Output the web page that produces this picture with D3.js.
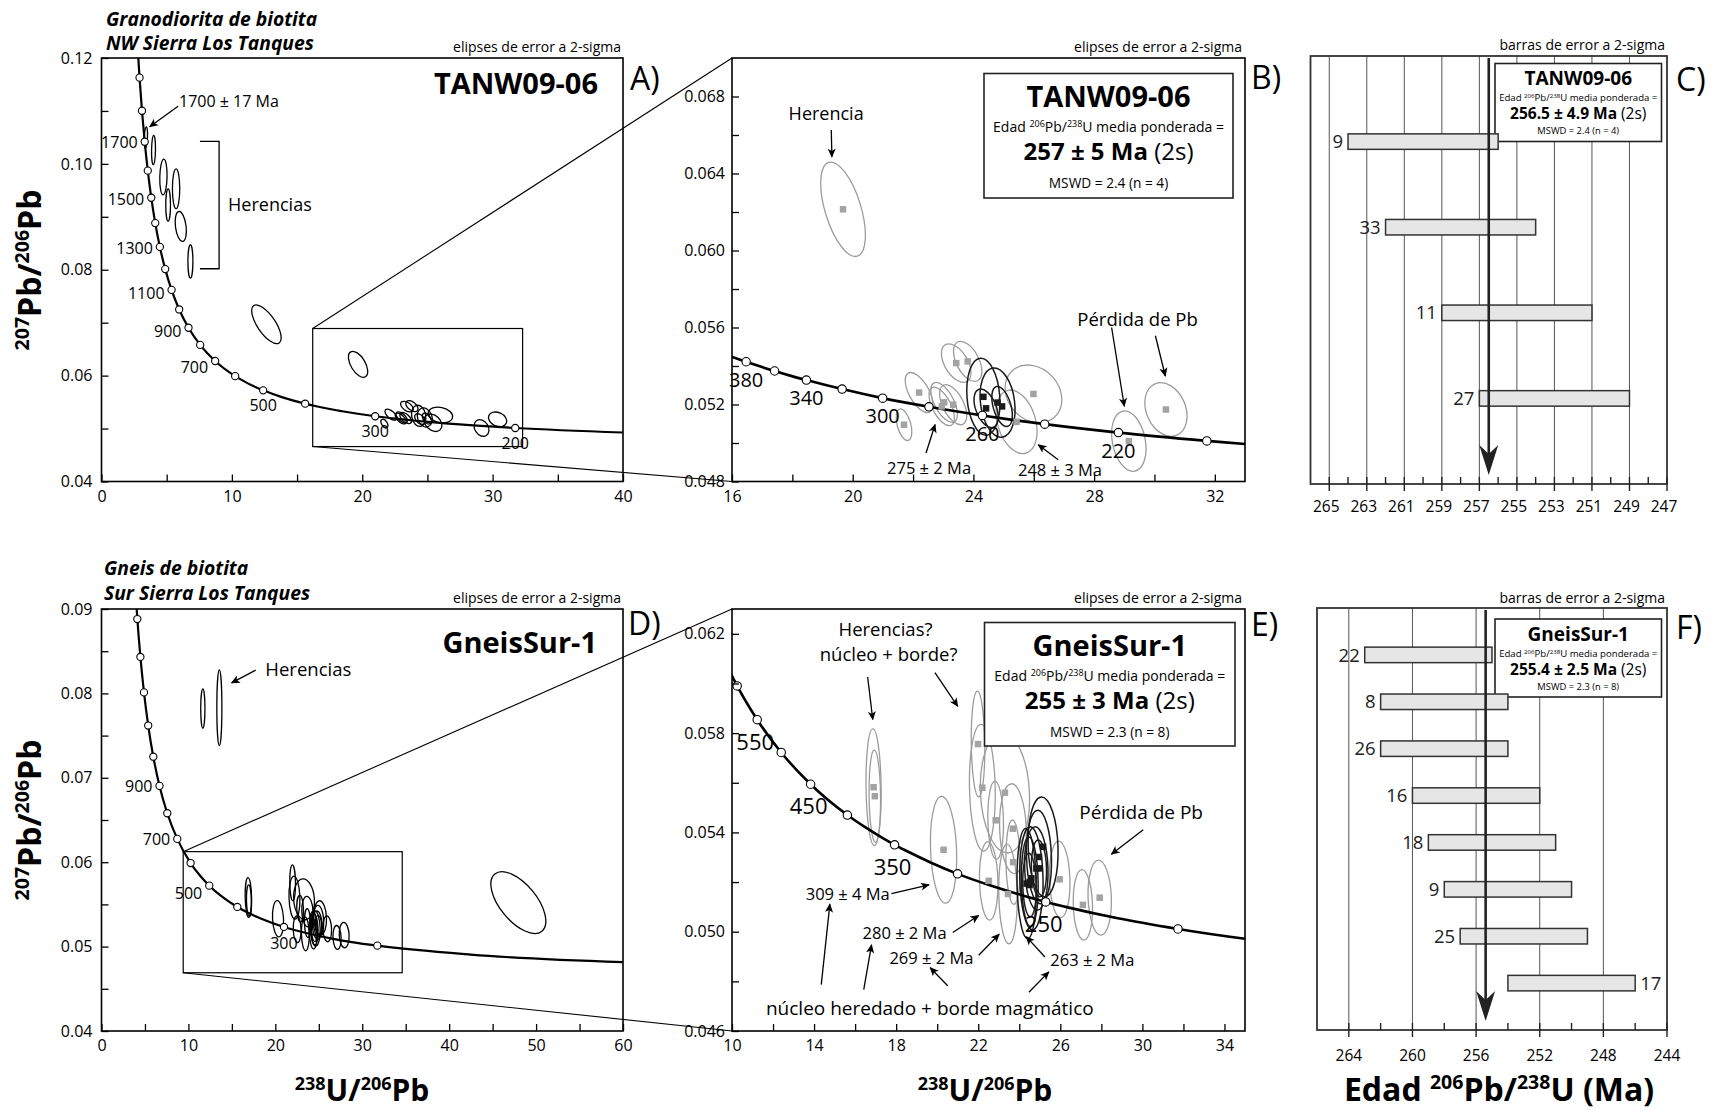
<!DOCTYPE html>
<html><head><meta charset="utf-8">
<script src="https://cdn.jsdelivr.net/npm/d3@7/dist/d3.min.js"></script>
<style>
html,body{margin:0;padding:0;background:#fff;}
svg{display:block;}
</style></head>
<body>
<svg id="fig" width="1711" height="1111" viewBox="0 0 1711 1111"></svg>
<script>
const FONT = "'Open Sans', 'Noto Sans', 'DejaVu Sans', sans-serif";

// ---- Tera-Wasserburg concordia, tabulated: age (Ma), 238U/206Pb, 207Pb/206Pb ----
const concAge = [2000,1900,1800,1700,1600,1500,1400,1300,1200,1100,1000,900,800,700,600,550,500,450,400,380,360,350,340,320,300,280,260,250,240,220,200,150,100];
const concU   = [2.749,2.9174,3.1046,3.3139,3.5497,3.8170,4.1227,4.4756,4.8875,5.3746,5.9593,6.6743,7.5684,8.7182,10.252,11.228,12.399,13.831,15.621,16.469,17.411,17.923,18.465,19.649,20.992,22.527,24.297,25.289,26.363,28.805,31.735,42.478,63.966];
const concPb  = [0.12299,0.11629,0.11004,0.10419,0.09872,0.09360,0.08881,0.08432,0.08012,0.07619,0.07250,0.06904,0.06580,0.06276,0.05990,0.05854,0.05722,0.05594,0.05470,0.05422,0.05374,0.05350,0.05327,0.05280,0.05233,0.05188,0.05143,0.05120,0.05098,0.05054,0.05011,0.04905,0.04802];

// concordia ages shown as open circles, and the ones carrying a label
const marksA  = [1900,1800,1700,1600,1500,1400,1300,1200,1100,1000,900,800,700,600,500,400,300,200];
const labelsA = [1700,1500,1300,1100,900,700,500,300,200];
const marksB  = [380,360,340,320,300,280,260,240,220,200];
const labelsB = [380,340,300,260,220];
const marksD  = [1400,1300,1200,1100,1000,900,800,700,600,500,400,300,200];
const labelsD = [900,700,500,300];
const marksE  = [600,550,500,450,400,350,300,250,200];
const labelsE = [550,450,350,250];

// spot analyses: [238U/206Pb, 207Pb/206Pb, 2s half-range x, 2s half-range y, rho, used in mean]
const tanwSpots = [
  [19.68,0.06214,0.74,0.00245,-0.55,0],
  [21.70,0.05095,0.26,0.00082,-0.45,0],
  [22.20,0.05262,0.46,0.00104,-0.60,0],
  [22.95,0.05190,0.42,0.00100,-0.60,0],
  [23.03,0.05211,0.44,0.00104,-0.60,0],
  [23.33,0.05199,0.45,0.00104,-0.55,0],
  [23.43,0.05415,0.49,0.00100,-0.50,0],
  [23.81,0.05424,0.47,0.00104,-0.50,0],
  [25.99,0.05255,0.94,0.00150,-0.20,0],
  [25.43,0.05110,0.68,0.00165,-0.30,0],
  [29.15,0.05010,0.57,0.00157,-0.25,0],
  [30.38,0.05174,0.70,0.00139,-0.25,0],
  [24.33,0.05240,0.55,0.00200,-0.15,1],
  [24.42,0.05180,0.40,0.00100,-0.45,1],
  [24.80,0.05210,0.58,0.00180,-0.20,1],
  [24.95,0.05190,0.34,0.00104,-0.45,1]
];
// older inherited grains of TANW09-06 (outside the enlarged window)
const tanwOld = [
  [3.40,0.10500,0.13,0.00198,0.30,0],
  [3.99,0.10262,0.15,0.00277,0.10,0],
  [4.75,0.09752,0.28,0.00337,0.10,0],
  [5.72,0.09530,0.28,0.00375,0.00,0],
  [5.11,0.09222,0.18,0.00306,0.00,0],
  [6.08,0.08818,0.43,0.00283,-0.30,0],
  [6.82,0.08157,0.19,0.00315,0.00,0],
  [12.65,0.06970,1.13,0.00366,-0.70,0]
];
const gneisSpots = [
  [16.90,0.05582,0.37,0.00235,-0.10,0],
  [16.96,0.05546,0.28,0.00186,-0.10,0],
  [20.31,0.05330,0.64,0.00215,-0.15,0],
  [21.99,0.05756,0.33,0.00213,-0.10,0],
  [22.20,0.05580,0.63,0.00255,-0.10,0],
  [23.30,0.05560,1.20,0.00242,-0.10,0],
  [22.85,0.05449,0.38,0.00158,-0.10,0],
  [23.69,0.05415,0.65,0.00181,-0.10,0],
  [23.70,0.05280,0.35,0.00170,-0.10,0],
  [22.51,0.05205,0.45,0.00158,-0.10,0],
  [23.45,0.05152,0.45,0.00201,-0.10,0],
  [25.97,0.05211,0.50,0.00154,-0.10,0],
  [27.10,0.05108,0.47,0.00142,-0.10,0],
  [27.92,0.05137,0.57,0.00151,-0.10,0],
  [25.16,0.05342,0.73,0.00201,-0.10,1],
  [24.96,0.05301,0.61,0.00188,-0.10,1],
  [24.83,0.05255,0.57,0.00168,-0.10,1],
  [24.59,0.05215,0.57,0.00208,-0.10,1],
  [24.36,0.05194,0.47,0.00222,-0.10,1],
  [24.51,0.05201,0.41,0.00181,-0.10,1],
  [24.96,0.05255,0.37,0.00114,-0.10,1],
  [24.50,0.05188,0.33,0.00128,-0.10,1]
];
const gneisOld = [
  [11.66,0.07820,0.24,0.00233,0.00,0],
  [13.56,0.07830,0.29,0.00448,0.00,0],
  [47.96,0.05522,3.16,0.00366,-0.60,0]
];

// enlarged windows: [x min, x max, y min, y max]
const tanwWindow  = [16.2, 32.3, 0.0466, 0.0689];
const gneisWindow = [9.4, 34.6, 0.0469, 0.06125];

// 206Pb/238U ages of grains used in the weighted means (Ma, 2s)
const tanwGrain = ['9','33','11','27'];
const tanwAge   = [260,258,255,253];
const tanwErr   = [4,4,4,4];
const tanwMean  = [256.5,4.9];
const tanwMswd  = 2.4;
const gneisGrain = ['22','8','26','16','18','9','25','17'];
const gneisAge   = [259,258,258,256,255,254,253,250];
const gneisErr   = [4,4,4,4,4,4,4,4];
const gneisMean  = [255.4,2.5];
const gneisMswd  = 2.3;

// axis ticks and labels
const aXTicks = [0,5,10,15,20,25,30,35,40],  aXLabels = [0,10,20,30,40];
const aYTicks = [0.04,0.05,0.06,0.07,0.08,0.09,0.10,0.11,0.12], aYLabels = [0.04,0.06,0.08,0.10,0.12];
const bXTicks = [16,18,20,22,24,26,28,30,32], bXLabels = [16,20,24,28,32];
const bYTicks = [0.048,0.050,0.052,0.054,0.056,0.058,0.060,0.062,0.064,0.066,0.068], bYLabels = [0.048,0.052,0.056,0.060,0.064,0.068];
const dXTicks = [0,5,10,15,20,25,30,35,40,45,50,55,60], dXLabels = [0,10,20,30,40,50,60];
const dYTicks = [0.04,0.045,0.05,0.055,0.06,0.065,0.07,0.075,0.08,0.085,0.09], dYLabels = [0.04,0.05,0.06,0.07,0.08,0.09];
const eXTicks = [10,12,14,16,18,20,22,24,26,28,30,32,34], eXLabels = [10,14,18,22,26,30,34];
const eYTicks = [0.046,0.048,0.050,0.052,0.054,0.056,0.058,0.060,0.062], eYLabels = [0.046,0.050,0.054,0.058,0.062];
const cTicks = [265,264,263,262,261,260,259,258,257,256,255,254,253,252,251,250,249,248,247];
const cLabels = [265,263,261,259,257,255,253,251,249,247];
const cGrid = [265,263,261,259,257,255,253,251,249];
const fTicks = [264,262,260,258,256,254,252,250,248,246,244];
const fLabels = [264,260,256,252,248,244];
const fGrid = [264,260,256,252,248];

// ------------------------------------------------------------------
const svg = d3.select('#fig');
svg.append('rect').attr('width',1711).attr('height',1111).attr('fill','#fff');
const defs = svg.append('defs');
defs.append('marker').attr('id','ah').attr('viewBox','0 0 10 10').attr('refX',9).attr('refY',5)
  .attr('markerWidth',11).attr('markerHeight',9).attr('markerUnits','userSpaceOnUse').attr('orient','auto')
  .append('path').attr('d','M0,0.5 L10,5 L0,9.5 L2.5,5 Z').attr('fill','#000');

const has = (arr, v) => arr.some(a => Math.abs(a - v) < 1e-9);

function rich(g, x, y, parts, opt = {}) {
  const t = g.append('text').attr('x', x).attr('y', y)
    .attr('text-anchor', opt.anchor || 'start').attr('font-family', FONT).attr('fill', '#000');
  if (opt.rotate) t.attr('transform', `rotate(${opt.rotate},${x},${y})`);
  let shift = 0;
  parts.forEach(p => {
    const want = p.sup ? -p.sup : 0;
    const s = t.append('tspan').text(p.t).attr('font-size', p.s)
      .attr('font-weight', p.w || 400).attr('font-style', p.i ? 'italic' : 'normal');
    if (want !== shift) { s.attr('dy', want - shift); shift = want; }
  });
  return t;
}
function label(g, x, cy, txt, size, opt = {}) {
  return g.append('text').attr('x', x).attr('y', cy + 0.36 * size)
    .attr('text-anchor', opt.anchor || 'middle').attr('font-family', FONT)
    .attr('font-size', size).attr('font-weight', opt.w || 400)
    .attr('font-style', opt.i ? 'italic' : 'normal').attr('fill', opt.fill || '#000').text(txt);
}
function concPoint(age) { const i = concAge.indexOf(age); return [concU[i], concPb[i]]; }

// error ellipse from marginal half-ranges and correlation, in screen space
function ellipseGeom(x, y, d) {
  const a = Math.abs(x(d[0] + d[2]) - x(d[0]));
  const b = Math.abs(y(d[1] + d[3]) - y(d[1]));
  const c = -d[4] * a * b;
  const m = (a * a + b * b) / 2, q = Math.sqrt(((a * a - b * b) / 2) ** 2 + c * c);
  return { cx: x(d[0]), cy: y(d[1]), rx: Math.sqrt(m + q), ry: Math.sqrt(Math.max(m - q, 0.01)),
           ang: 0.5 * Math.atan2(2 * c, a * a - b * b) * 180 / Math.PI };
}

function scatter(cfg) {
  const g = svg.append('g');
  const x = d3.scaleLinear().domain(cfg.xDom).range([cfg.l, cfg.r]);
  const y = d3.scaleLinear().domain(cfg.yDom).range([cfg.b, cfg.t]);
  defs.append('clipPath').attr('id', 'clip' + cfg.name).append('rect')
    .attr('x', cfg.l).attr('y', cfg.t).attr('width', cfg.r - cfg.l).attr('height', cfg.b - cfg.t);
  const inner = g.append('g').attr('clip-path', `url(#clip${cfg.name})`);

  const spots = cfg.spots.slice().sort((p, q) => p[5] - q[5]);
  spots.forEach(d => {
    const e = ellipseGeom(x, y, d);
    inner.append('ellipse').attr('rx', e.rx).attr('ry', e.ry)
      .attr('transform', `translate(${e.cx},${e.cy}) rotate(${e.ang})`)
      .attr('fill', 'none')
      .attr('stroke', cfg.detail ? (d[5] ? '#1a1a1a' : '#9c9c9c') : '#000')
      .attr('stroke-width', cfg.detail ? (d[5] ? 1.5 : 1.3) : 1.3);
  });

  const pts = concAge.map((a, i) => [concU[i], concPb[i]]);
  inner.append('path').datum(pts)
    .attr('d', d3.line().x(p => x(p[0])).y(p => y(p[1])).curve(d3.curveMonotoneX))
    .attr('fill', 'none').attr('stroke', '#000').attr('stroke-width', cfg.detail ? 2.6 : 2.2);
  cfg.marks.forEach(a => {
    const p = concPoint(a);
    inner.append('circle').attr('cx', x(p[0])).attr('cy', y(p[1])).attr('r', cfg.detail ? 4.2 : 3.6)
      .attr('fill', '#fff').attr('stroke', '#000').attr('stroke-width', 1.1);
  });
  if (cfg.detail) {
    spots.forEach(d => {
      const s = 6.5;
      inner.append('rect').attr('x', x(d[0]) - s / 2).attr('y', y(d[1]) - s / 2)
        .attr('width', s).attr('height', s).attr('fill', d[5] ? '#1a1a1a' : '#a3a3a3');
    });
  }
  cfg.labels.forEach(a => {
    const p = concPoint(a), px = x(p[0]), py = y(p[1]);
    const pl = cfg.place(a);
    if (pl[0] === 'l') label(g, px - 7, py + pl[1], String(a), cfg.labSize, { anchor: 'end' });
    else label(g, px + (pl[2] || 0), py + pl[1], String(a), cfg.labSize);
  });

  // frame and axes
  g.append('rect').attr('x', cfg.l).attr('y', cfg.t).attr('width', cfg.r - cfg.l).attr('height', cfg.b - cfg.t)
    .attr('fill', 'none').attr('stroke', '#000').attr('stroke-width', 1.6);
  const ax = g.append('g').attr('transform', `translate(0,${cfg.b})`)
    .call(d3.axisBottom(x).tickValues(cfg.xTicks).tickSizeInner(-7).tickSizeOuter(0).tickPadding(9)
      .tickFormat(v => has(cfg.xLabels, v) ? String(v) : ''));
  const ay = g.append('g').attr('transform', `translate(${cfg.l},0)`)
    .call(d3.axisLeft(y).tickValues(cfg.yTicks).tickSizeInner(-7).tickSizeOuter(0).tickPadding(cfg.yPad)
      .tickFormat(v => has(cfg.yLabels, v) ? d3.format(cfg.yFmt)(v) : ''));
  [ax, ay].forEach(a => {
    a.select('.domain').remove();
    a.attr('font-family', FONT).attr('font-size', 16);
    a.selectAll('line').attr('stroke-width', 1.3);
    a.selectAll('text').attr('fill', '#000');
  });
  return { g, x, y };
}

function arrow(g, x, y, p0, p1) {
  g.append('line').attr('x1', x(p0[0])).attr('y1', y(p0[1])).attr('x2', x(p1[0])).attr('y2', y(p1[1]))
    .attr('stroke', '#000').attr('stroke-width', 1.3).attr('marker-end', 'url(#ah)');
}

function infoBox(g, bx, by, bw, bh, rows) {
  g.append('rect').attr('x', bx).attr('y', by).attr('width', bw).attr('height', bh)
    .attr('fill', '#fff').attr('stroke', '#222').attr('stroke-width', 1.6);
  rows.forEach(r => rich(g, bx + bw / 2, by + r.dy, r.parts, { anchor: 'middle' }));
}
// st: [title, text, value, mswd] sizes; off: row centres from box top
function statRows(name, mean, mswd, n, st, off, fmt) {
  const m = d3.format(fmt);
  const sup = st[1] * 0.64, rise = st[1] * 0.32;
  return [
    { dy: off[0] + 0.36 * st[0], parts: [{ t: name, s: st[0], w: 700 }] },
    { dy: off[1] + 0.36 * st[1], parts: [{ t: 'Edad ', s: st[1] }, { t: '206', s: sup, sup: rise },
        { t: 'Pb/', s: st[1] }, { t: '238', s: sup, sup: rise }, { t: 'U media ponderada =', s: st[1] }] },
    { dy: off[2] + 0.36 * st[2], parts: [{ t: `${m(mean[0])} ± ${m(mean[1])} Ma `, s: st[2], w: 700 }, { t: '(2s)', s: st[2] }] },
    { dy: off[3] + 0.36 * st[3], parts: [{ t: `MSWD = ${mswd} (n = ${n})`, s: st[3] }] }
  ];
}

// ------------------------------ A ------------------------------
const A = scatter({
  name: 'A', l: 101.5, r: 623, t: 58, b: 481.5, xDom: [0, 40], yDom: [0.04, 0.12],
  spots: tanwSpots.concat(tanwOld), detail: false, marks: marksA, labels: labelsA, labSize: 16,
  place: a => a >= 1300 ? ['l', 1] : a >= 900 ? ['l', 3] : a >= 700 ? ['l', 6] : ['b', 15],
  xTicks: aXTicks, xLabels: aXLabels, yTicks: aYTicks, yLabels: aYLabels, yFmt: '.2f', yPad: 9
});
// ------------------------------ B ------------------------------
const B = scatter({
  name: 'B', l: 732, r: 1245, t: 58, b: 481.5, xDom: [16, 33], yDom: [0.048, 0.070],
  spots: tanwSpots, detail: true, marks: marksB, labels: labelsB, labSize: 20,
  place: a => ['b', 18],
  xTicks: bXTicks, xLabels: bXLabels, yTicks: bYTicks, yLabels: bYLabels, yFmt: '.3f', yPad: 7
});
// ------------------------------ D ------------------------------
const D = scatter({
  name: 'D', l: 101.5, r: 623, t: 609, b: 1031, xDom: [0, 60], yDom: [0.04, 0.09],
  spots: gneisSpots.concat(gneisOld), detail: false, marks: marksD, labels: labelsD, labSize: 16,
  place: a => a >= 700 ? ['l', 0] : a >= 500 ? ['l', 8] : ['b', 16],
  xTicks: dXTicks, xLabels: dXLabels, yTicks: dYTicks, yLabels: dYLabels, yFmt: '.2f', yPad: 9
});
// ------------------------------ E ------------------------------
const E = scatter({
  name: 'E', l: 732, r: 1245, t: 609, b: 1031, xDom: [10, 35], yDom: [0.046, 0.063],
  spots: gneisSpots, detail: true, marks: marksE, labels: labelsE, labSize: 22,
  place: a => ['b', 22, -2],
  xTicks: eXTicks, xLabels: eXLabels, yTicks: eYTicks, yLabels: eYLabels, yFmt: '.3f', yPad: 7
});

// enlarged windows and connecting lines
function windowLinks(P, w, qt, qb, ql) {
  const x0 = P.x(w[0]), x1 = P.x(w[1]), y0 = P.y(w[3]), y1 = P.y(w[2]);
  svg.append('rect').attr('x', x0).attr('y', y0).attr('width', x1 - x0).attr('height', y1 - y0)
    .attr('fill', 'none').attr('stroke', '#000').attr('stroke-width', 1.2);
  svg.append('line').attr('x1', x0).attr('y1', y0).attr('x2', ql).attr('y2', qt).attr('stroke', '#000').attr('stroke-width', 1.1);
  svg.append('line').attr('x1', x0).attr('y1', y1).attr('x2', ql).attr('y2', qb).attr('stroke', '#000').attr('stroke-width', 1.1);
}
windowLinks(A, tanwWindow, 58, 481.5, 732);
windowLinks(D, gneisWindow, 609, 1031, 732);

// ---- annotations A ----
label(A.g, A.x(5.95), A.y(0.1118), '1700 ± 17 Ma', 16, { anchor: 'start' });
arrow(A.g, A.x, A.y, [5.87, 0.1109], [3.70, 0.1070]);
A.g.append('path').attr('d', d3.line()([[A.x(7.55), A.y(0.10424)], [A.x(9.02), A.y(0.10424)], [A.x(9.02), A.y(0.08019)], [A.x(7.55), A.y(0.08019)]]))
  .attr('fill', 'none').attr('stroke', '#000').attr('stroke-width', 1.3);
label(A.g, A.x(9.71), A.y(0.0923), 'Herencias', 18, { anchor: 'start' });
label(A.g, 598, 84, 'TANW09-06', 29, { anchor: 'end', w: 700 });

// ---- annotations B ----
const bigSizes = [29, 14, 24, 13.7], bigOff = [23.5, 53, 78, 109.5];
label(B.g, B.x(19.12), B.y(0.06713), 'Herencia', 18);
arrow(B.g, B.x, B.y, [19.29, 0.06626], [19.31, 0.06487]);
label(B.g, B.x(29.44), B.y(0.05643), 'Pérdida de Pb', 18.5);
arrow(B.g, B.x, B.y, [28.58, 0.0560], [29.0, 0.05191]);
arrow(B.g, B.x, B.y, [30.03, 0.05557], [30.36, 0.05348]);
label(B.g, B.x(22.53), B.y(0.0487), '275 ± 2 Ma', 16.5);
arrow(B.g, B.x, B.y, [22.43, 0.04948], [22.73, 0.05096]);
label(B.g, B.x(26.87), B.y(0.04861), '248 ± 3 Ma', 16.5);
arrow(B.g, B.x, B.y, [26.81, 0.04913], [26.15, 0.04991]);
infoBox(B.g, 984, 73.5, 249, 124.5, statRows('TANW09-06', tanwMean, tanwMswd, tanwGrain.length, bigSizes, bigOff, '.0f'));

// ---- annotations D ----
label(D.g, D.x(18.85), D.y(0.0829), 'Herencias', 18.5, { anchor: 'start' });
arrow(D.g, D.x, D.y, [17.74, 0.08276], [14.97, 0.08125]);
label(D.g, 597, 643, 'GneisSur-1', 29, { anchor: 'end', w: 700 });

// ---- annotations E ----
label(E.g, E.x(17.48), E.y(0.06217), 'Herencias?', 18.5);
label(E.g, E.x(17.63), E.y(0.06118), 'núcleo + borde?', 18.5);
arrow(E.g, E.x, E.y, [16.61, 0.06026], [16.86, 0.05855]);
arrow(E.g, E.x, E.y, [19.89, 0.06044], [21.0, 0.05908]);
label(E.g, E.x(29.94), E.y(0.05482), 'Pérdida de Pb', 19);
arrow(E.g, E.x, E.y, [30.04, 0.05411], [28.49, 0.05312]);
label(E.g, E.x(15.64), E.y(0.05153), '309 ± 4 Ma', 16.5);
arrow(E.g, E.x, E.y, [17.77, 0.05153], [19.6, 0.05189]);
label(E.g, E.x(18.41), E.y(0.04994), '280 ± 2 Ma', 16.5);
arrow(E.g, E.x, E.y, [20.76, 0.04997], [22.02, 0.05065]);
label(E.g, E.x(19.72), E.y(0.04895), '269 ± 2 Ma', 16.5);
arrow(E.g, E.x, E.y, [22.02, 0.04905], [23.02, 0.0499]);
label(E.g, E.x(27.56), E.y(0.04887), '263 ± 2 Ma', 16.5);
arrow(E.g, E.x, E.y, [25.25, 0.04898], [24.34, 0.0498]);
label(E.g, E.x(19.64), E.y(0.04692), 'núcleo heredado + borde magmático', 19);
arrow(E.g, E.x, E.y, [14.35, 0.04787], [14.77, 0.05111]);
arrow(E.g, E.x, E.y, [16.42, 0.04767], [16.8, 0.04947]);
arrow(E.g, E.x, E.y, [20.51, 0.04782], [19.66, 0.04855]);
arrow(E.g, E.x, E.y, [24.47, 0.04756], [25.44, 0.04838]);
infoBox(E.g, 984.5, 622.5, 250.5, 123.5, statRows('GneisSur-1', gneisMean, gneisMswd, gneisGrain.length, bigSizes, bigOff, '.0f'));

// ------------------------ weighted-mean bar panels ------------------------
function agePanel(cfg) {
  const g = svg.append('g');
  const x = d3.scaleLinear().domain(cfg.xDom).range([cfg.l, cfg.r]);
  const y = d3.scalePoint().domain(cfg.ids).range([cfg.t, cfg.b]).padding(1);
  cfg.grid.forEach(v => g.append('line').attr('x1', x(v)).attr('x2', x(v)).attr('y1', cfg.t).attr('y2', cfg.b)
    .attr('stroke', '#555').attr('stroke-width', 1));
  infoBox(g, cfg.box[0], cfg.box[1], cfg.box[2], cfg.box[3],
    statRows(cfg.name, cfg.mean, cfg.mswd, cfg.ids.length, [19, 9.6, 15.5, 9.4], [15, 34.5, 50, 67.5], '.1f'));
  const mx = x(cfg.mean[0]);
  const bh = 15.5;
  cfg.ids.forEach((id, i) => {
    const lo = x(cfg.age[i] + cfg.err[i]), hi = x(cfg.age[i] - cfg.err[i]), cy = y(id);
    g.append('rect').attr('x', lo).attr('y', cy - bh / 2).attr('width', hi - lo).attr('height', bh)
      .attr('fill', '#e6e6e6').attr('stroke', '#333').attr('stroke-width', 1.5);
    if (lo > mx) label(g, hi + 5, cy, id, 18.5, { anchor: 'start', fill: '#222' });
    else label(g, lo - 5, cy, id, 18.5, { anchor: 'end', fill: '#222' });
  });
  // weighted mean arrow
  const tip = cfg.b - 9;
  g.append('line').attr('x1', mx).attr('x2', mx).attr('y1', cfg.t + 2).attr('y2', tip - 20)
    .attr('stroke', '#222').attr('stroke-width', 2.6);
  g.append('path').attr('d', `M${mx},${tip} L${mx - 9.5},${tip - 30} L${mx},${tip - 21} L${mx + 9.5},${tip - 30} Z`)
    .attr('fill', '#222');
  g.append('rect').attr('x', cfg.l).attr('y', cfg.t).attr('width', cfg.r - cfg.l).attr('height', cfg.b - cfg.t)
    .attr('fill', 'none').attr('stroke', '#333').attr('stroke-width', 1.8);
  cfg.ticks.forEach(v => {
    const major = has(cfg.labels, v);
    g.append('line').attr('x1', x(v)).attr('x2', x(v)).attr('y1', cfg.b - 7).attr('y2', cfg.b + (major ? 7 : 0))
      .attr('stroke', '#222').attr('stroke-width', 1.4);
    if (major) label(g, x(v) + cfg.labDx, cfg.b + cfg.labDy, String(v), 15.5);
  });
  return { g, x, y };
}
const C = agePanel({
  name: 'TANW09-06', l: 1310.5, r: 1667, t: 56, b: 484, xDom: [266, 247],
  ids: tanwGrain, age: tanwAge, err: tanwErr, mean: tanwMean, mswd: tanwMswd,
  grid: cGrid, ticks: cTicks, labels: cLabels, box: [1495, 63.5, 166.5, 78], labDx: -3, labDy: 22
});
const F = agePanel({
  name: 'GneisSur-1', l: 1317, r: 1667, t: 608, b: 1030, xDom: [266, 244],
  ids: gneisGrain, age: gneisAge, err: gneisErr, mean: gneisMean, mswd: gneisMswd,
  grid: fGrid, ticks: fTicks, labels: fLabels, box: [1495, 619, 166.5, 78], labDx: 0, labDy: 25
});

// ------------------------------ titles ------------------------------
const T = svg.append('g');
rich(T, 106, 26, [{ t: 'Granodiorita de biotita', s: 19.3, w: 700, i: true }]);
rich(T, 106, 50, [{ t: 'NW Sierra Los Tanques', s: 19.3, w: 700, i: true }]);
rich(T, 104, 575, [{ t: 'Gneis de biotita', s: 19.3, w: 700, i: true }]);
rich(T, 104, 600, [{ t: 'Sur Sierra Los Tanques', s: 19.3, w: 700, i: true }]);

[[621, 52], [1242, 52], [621, 603], [1242, 603]].forEach(p =>
  rich(T, p[0], p[1], [{ t: 'elipses de error a 2-sigma', s: 14 }], { anchor: 'end' }));
[[1665, 50], [1665, 603]].forEach(p =>
  rich(T, p[0], p[1], [{ t: 'barras de error a 2-sigma', s: 14 }], { anchor: 'end' }));

[['A)', 630, 90], ['B)', 1251, 89], ['C)', 1676, 91], ['D)', 628, 635], ['E)', 1251, 636], ['F)', 1676, 639]]
  .forEach(p => rich(T, p[1], p[2], [{ t: p[0], s: 32 }]));

const yTitle = [{ t: '207', s: 19.5, w: 700, sup: 12 }, { t: 'Pb/', s: 32, w: 700 }, { t: '206', s: 19.5, w: 700, sup: 12 }, { t: 'Pb', s: 32, w: 700 }];
rich(T, 41, 270, yTitle, { anchor: 'middle', rotate: -90 });
rich(T, 41, 820, yTitle, { anchor: 'middle', rotate: -90 });
const xTitle = [{ t: '238', s: 18, w: 700, sup: 11 }, { t: 'U/', s: 30, w: 700 }, { t: '206', s: 18, w: 700, sup: 11 }, { t: 'Pb', s: 30, w: 700 }];
rich(T, 362, 1101, xTitle, { anchor: 'middle' });
rich(T, 985, 1101, xTitle, { anchor: 'middle' });
rich(T, 1499, 1101, [{ t: 'Edad ', s: 32, w: 700 }, { t: '206', s: 19.5, w: 700, sup: 12 }, { t: 'Pb/', s: 32, w: 700 },
  { t: '238', s: 19.5, w: 700, sup: 12 }, { t: 'U (Ma)', s: 32, w: 700 }], { anchor: 'middle' });
</script>
</body></html>
